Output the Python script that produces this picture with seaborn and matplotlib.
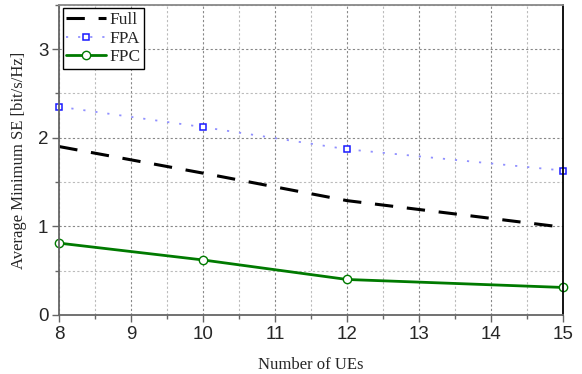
import matplotlib
matplotlib.use("Agg")
import matplotlib.pyplot as plt
import seaborn as sns
import pandas as pd
from matplotlib.ticker import MultipleLocator

ues = [8, 10, 12, 15]
full = [1.90, 1.60, 1.29, 0.99]
fpa = [2.35, 2.12, 1.87, 1.63]
fpc = [0.81, 0.62, 0.40, 0.31]
xticks = [8, 9, 10, 11, 12, 13, 14, 15]
yticks = [0, 1, 2, 3]

df = pd.DataFrame({"UEs": ues, "Full": full, "FPA": fpa, "FPC": fpc})

sns.set_style("white")
plt.rcParams["font.family"] = ["Liberation Sans", "DejaVu Sans"]

fig = plt.figure(figsize=(5.82, 3.74), dpi=100)
ax = fig.add_axes([0.102, 0.158, 0.865, 0.829])

sns.lineplot(data=df, x="UEs", y="Full", ax=ax, color="black", lw=2.2,
             label="Full")
ax.lines[-1].set_dashes([6, 4.5])
sns.lineplot(data=df, x="UEs", y="FPA", ax=ax, color="#9090ff", lw=1.3,
             label="FPA")
ax.lines[-1].set_dashes([1.2, 5.5])
sns.lineplot(data=df, x="UEs", y="FPC", ax=ax, color="#007a00", lw=2.0,
             label="FPC")
l_fpa = ax.lines[1]
l_fpa.set_marker("s"); l_fpa.set_markersize(5); l_fpa.set_markerfacecolor("white")
l_fpa.set_markeredgecolor("#1a1aff"); l_fpa.set_markeredgewidth(1.1)
l_fpc = ax.lines[2]
l_fpc.set_marker("o"); l_fpc.set_markersize(6); l_fpc.set_markerfacecolor("white")
l_fpc.set_markeredgecolor("#007a00"); l_fpc.set_markeredgewidth(1.0)
for l in ax.lines:
    l.set_clip_on(False)

ax.set_xlim(8, 15)
ax.set_ylim(0, 3.5)
ax.set_xticks(xticks)
ax.set_yticks(yticks)
ax.xaxis.set_minor_locator(MultipleLocator(0.5))
ax.yaxis.set_minor_locator(MultipleLocator(0.5))
ax.grid(True, which="major", color="#888888", ls=(0, (2, 2)), lw=0.8)
ax.grid(True, which="minor", color="#bbbbbb", ls=(0, (2, 2)), lw=0.8)
ax.tick_params(axis="both", which="major", direction="out", length=5,
               width=1, color="#666666", labelsize=13.5, pad=3, bottom=True, left=True)
ax.tick_params(axis="both", which="minor", direction="out", length=3,
               width=1, color="#666666", bottom=True, left=True)
for s in ["left", "bottom"]:
    ax.spines[s].set_color("#666666"); ax.spines[s].set_linewidth(1.3)
ax.spines["top"].set_color("#888888"); ax.spines["top"].set_linewidth(1.3)
ax.spines["right"].set_color("black"); ax.spines["right"].set_linewidth(1.3)

ax.set_xlabel("Number of UEs", family="Liberation Serif", fontsize=12, labelpad=10)
ax.set_ylabel("Average Minimum SE [bit/s/Hz]", family="Liberation Serif", fontsize=12, labelpad=8)

leg = ax.legend(loc="upper left", frameon=True, fancybox=False, edgecolor="black",
                prop={"family": "Liberation Serif", "size": 12.5}, handlelength=2.3,
                borderpad=0.2, labelspacing=0.15, handletextpad=0.2,
                borderaxespad=0.2, framealpha=1)
leg.get_frame().set_linewidth(1.0)

fig.savefig("out.png", dpi=100)
